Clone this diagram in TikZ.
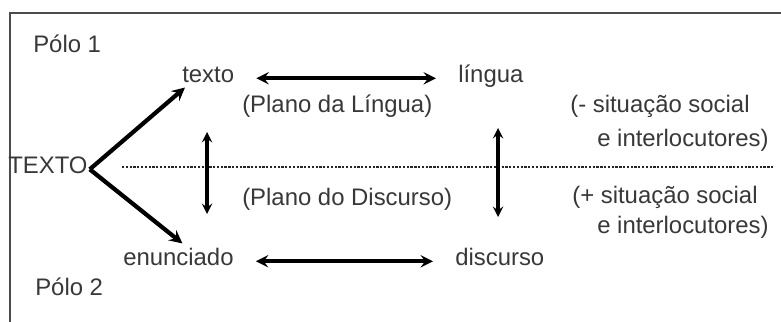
\documentclass[tikz,border=0pt]{standalone}
\usepackage{fontspec}
\setmainfont{Liberation Sans}
\usepackage{tikz}
\usetikzlibrary{calc}
\usetikzlibrary{arrows}
\tikzstyle{lbl} = [anchor=base west, 
inner sep=0pt, 
text=black!78, 
font=\fontsize{17}{20}\selectfont]
\tikzstyle{arrow} = [line width=2.8pt,<->,>=stealth,shorten >=0.55cm,shorten <=0.55cm]
\tikzstyle{branch} = [line width=3pt,->,>=stealth]
\tikzstyle{vertarrow} = [line width=2.2pt,<->,>=stealth]
\tikzstyle{divider} = [black!85, line width=0.8pt, dash pattern=on 1.6pt off 1.1pt]

\begin{document}
\begin{tikzpicture}
    \useasboundingbox (0,0) rectangle (19.525,-8.025);
    % frame
    \draw [black!70, line width=1.5pt] (0.25,-8.3) -- (0.25,-0.325) -- (19.8,-0.325);

    \node (polo1) [lbl, xshift=0.825cm, yshift=-1.3cm] {Pólo 1};
    \node (polo2) [lbl, xshift=0.875cm, yshift=-7.375cm] {Pólo 2};
    \node (TEXTO) [lbl, xshift=0.2cm, yshift=-4.325cm] {TEXTO};

    \node (texto) [lbl, xshift=4.55cm, yshift=-2.05cm] {texto};
    \node (lingua) [lbl, xshift=11.45cm, yshift=-2.05cm] {língua};
    \node (planoL) [lbl, xshift=6.05cm, yshift=-2.8cm] {(Plano da Língua)};

    \node (enunciado) [lbl, xshift=3.075cm, yshift=-6.625cm] {enunciado};
    \node (discurso) [lbl, xshift=11.375cm, yshift=-6.625cm] {discurso};
    \node (planoD) [lbl, xshift=6.05cm, yshift=-5.125cm] {(Plano do Discurso)};

    \node (menos1) [lbl, xshift=14.25cm, yshift=-2.8cm] {(- situação social};
    \node (menos2) [lbl, xshift=14.925cm, yshift=-3.65cm] {e interlocutores)};
    \node (mais1) [lbl, xshift=14.3cm, yshift=-5.075cm] {(+ situação social};
    \node (mais2) [lbl, xshift=14.925cm, yshift=-5.825cm] {e interlocutores)};

    \coordinate (ltop) at (5.175,-3.3);
    \coordinate (lbot) at (5.175,-5.35);
    \coordinate (rtop) at (12.45,-3.2);
    \coordinate (rbot) at (12.45,-5.425);
    \coordinate (dstart) at (3.05,-4.175);
    \coordinate (dend) at (19.325,-4.175);

    % dividing line
    \draw [divider] (dstart) -- (dend);

    % branches from TEXTO
    \draw [branch] ([xshift=0.05cm]TEXTO.mid east) -- ([shift={(0.075,-0.125)}]texto.south west);
    \draw [branch] ([xshift=0.05cm]TEXTO.mid east) -- ([shift={(0.1,0.1)}]enunciado.north);

    % horizontal arcs
    \draw [arrow] (texto.mid east) -- (lingua.mid west);
    \draw [arrow] (enunciado.mid east) -- (discurso.mid west);

    % vertical arcs
    \draw [vertarrow] (ltop) -- (lbot);
    \draw [vertarrow] (rtop) -- (rbot);
\end{tikzpicture}
\end{document}
